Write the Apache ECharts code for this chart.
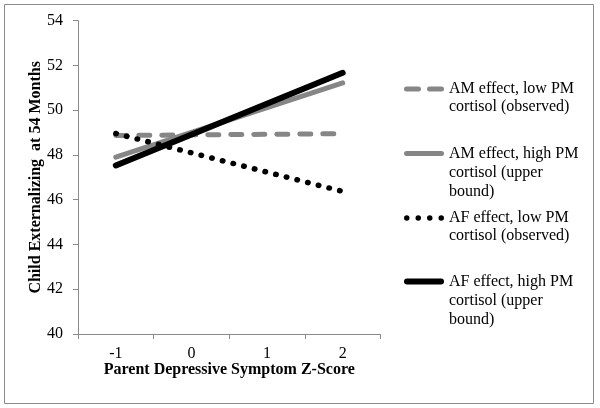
<!DOCTYPE html>
<html>
<head>
<meta charset="utf-8">
<script src="https://cdn.jsdelivr.net/npm/echarts@6/dist/echarts.min.js"></script>
<style>html,body{margin:0;padding:0;background:#fff}#c{width:600px;height:408px}</style>
</head>
<body>
<div id="c"></div>
<script>
var categories = ['-1', '0', '1', '2'];
var amLow = [48.87, null, null, 48.95];
var amHigh = [47.9, null, null, 51.22];
var afLow = [48.96, null, null, 46.37];
var afHigh = [47.53, null, null, 51.67];
var seriesNames = [
  'AM effect, low PM\ncortisol (observed)',
  'AM effect, high PM\ncortisol (upper\nbound)',
  'AF effect, low PM\ncortisol (observed)',
  'AF effect, high PM\ncortisol (upper\nbound)'
];
var yMin = 40, yMax = 54, yStep = 2;

var FONT = 'Liberation Serif';
var GRAY = '#868686';
var chart = echarts.init(document.getElementById('c'), null, {renderer: 'canvas'});

var styles = [
  {color: GRAY, width: 5, type: [11, 12], cap: 'round'},
  {color: GRAY, width: 5, type: 'solid', cap: 'round'},
  {color: '#000', width: 5.5, type: [0.5, 10.5], cap: 'round'},
  {color: '#000', width: 6, type: 'solid', cap: 'round'}
];

function roundRect(x0, x1, h) {
  var r = h / 2;
  return 'M' + (x0 + r) + ',0 H' + (x1 - r) + ' A' + r + ',' + r + ' 0 0 1 ' + (x1 - r) + ',' + h +
    ' H' + (x0 + r) + ' A' + r + ',' + r + ' 0 0 1 ' + (x0 + r) + ',0 Z';
}
function dot(cx, d) {
  var r = d / 2;
  return 'M' + (cx - r) + ',' + r + ' A' + r + ',' + r + ' 0 1 0 ' + (cx + r) + ',' + r +
    ' A' + r + ',' + r + ' 0 1 0 ' + (cx - r) + ',' + r + ' Z';
}
var legendIcons = [
  {path: 'path://' + roundRect(0, 17, 5) + ' ' + roundRect(23, 40, 5), h: 5},
  {path: 'path://' + roundRect(0, 40, 5), h: 5},
  {path: 'path://' + dot(2.75, 5.5) + ' ' + dot(14.25, 5.5) + ' ' + dot(25.75, 5.5) + ' ' + dot(37.25, 5.5), h: 5.5},
  {path: 'path://' + roundRect(0, 40, 6), h: 6}
];

function legendAt(i, top, lines) {
  var pre = lines === 2 ? '\n' : '\n\n';
  return {
    data: [{name: seriesNames[i], icon: legendIcons[i].path}],
    left: 404, top: top, orient: 'vertical',
    itemWidth: 40, itemHeight: legendIcons[i].h, itemGap: 0, padding: 0,
    itemStyle: {color: styles[i].color, borderWidth: 0},
    formatter: function (n) { return pre + n; },
    textStyle: {fontFamily: FONT, fontSize: 16, color: '#000', lineHeight: lines === 2 ? 18 : 19}
  };
}

var option = {
  animation: false,
  backgroundColor: '#fff',
  graphic: [{type: 'rect', shape: {x: 4.5, y: 4.5, width: 589, height: 399}, style: {fill: 'none', stroke: '#8a8a8a', lineWidth: 1}}],
  grid: {left: 78, top: 20.7, right: 219.5, bottom: 74, containLabel: false},
  legend: [
    legendAt(0, 62, 2),
    legendAt(1, 106, 3),
    legendAt(2, 191, 2),
    legendAt(3, 234, 3)
  ],
  xAxis: {
    type: 'category', data: categories, boundaryGap: true,
    name: 'Parent Depressive Symptom Z-Score', nameLocation: 'middle', nameGap: 28,
    nameMoveOverlap: false,
    nameTextStyle: {fontFamily: FONT, fontSize: 16, fontWeight: 'bold', color: '#000'},
    axisLine: {lineStyle: {color: '#8a8a8a', width: 1}},
    axisTick: {show: true, length: 5, lineStyle: {color: '#8a8a8a'}},
    axisLabel: {fontFamily: FONT, fontSize: 16, color: '#000', margin: 12},
    splitLine: {show: false}
  },
  yAxis: {
    type: 'value', min: yMin, max: yMax, interval: yStep,
    name: 'Child Externalizing  at 54 Months', nameLocation: 'middle', nameGap: 34,
    nameMoveOverlap: false,
    nameTextStyle: {fontFamily: FONT, fontSize: 16, fontWeight: 'bold', color: '#000'},
    axisLine: {show: true, lineStyle: {color: '#8a8a8a', width: 1}},
    axisTick: {show: true, length: 5, lineStyle: {color: '#8a8a8a'}},
    axisLabel: {fontFamily: FONT, fontSize: 16, color: '#000', margin: 15},
    splitLine: {show: false}
  },
  series: seriesNames.map(function (n, i) {
    return {name: n, type: 'line', data: [amLow, amHigh, afLow, afHigh][i], connectNulls: true,
      symbol: 'none', itemStyle: {color: styles[i].color}, lineStyle: styles[i]};
  })
};
chart.setOption(option);
</script>
</body>
</html>
